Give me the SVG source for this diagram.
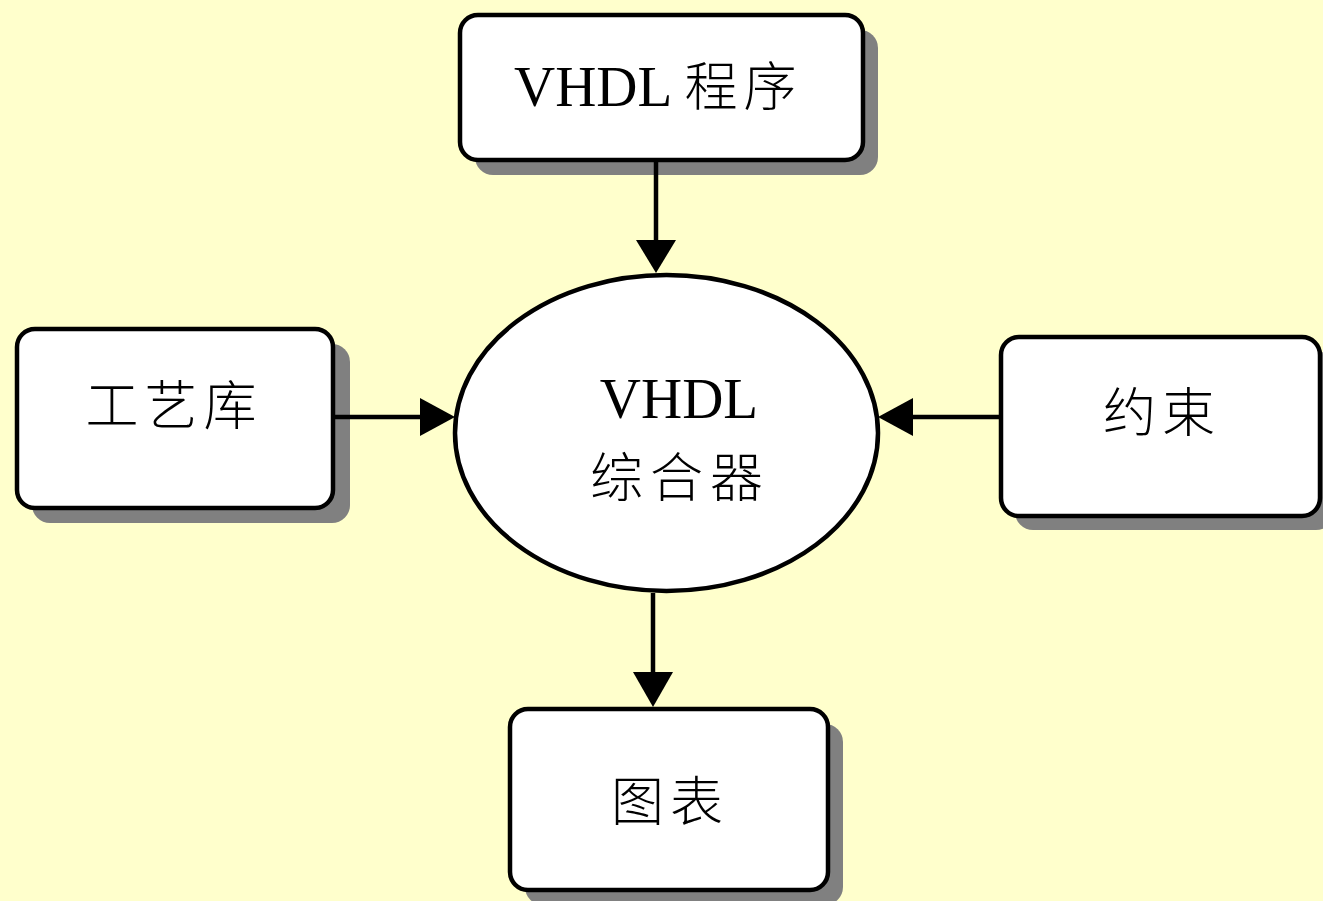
<svg xmlns="http://www.w3.org/2000/svg" width="1323" height="901" viewBox="0 0 1323 901">
<defs>
<style>
.bg{fill:#FFFFCC}
.sh{fill:#808080}
.box{fill:#FFFFFF;stroke:#000;stroke-width:4.5}
.lat{font-family:"Liberation Serif","Times New Roman",serif;font-size:57px;fill:#000}
.cjk{font-family:"Noto Sans CJK SC","Noto Sans CJK JP",sans-serif;font-size:53px;fill:#000;font-weight:300}
.ln{stroke:#000;stroke-width:4.5;fill:none}
.ah{fill:#000}
</style>
</defs>
<rect class="bg" x="0" y="0" width="1323" height="901"/>

<g id="node-vhdl-program">
<rect class="sh" x="475" y="30" width="403" height="145" rx="18"/>
<rect class="box" x="460" y="15" width="403" height="145" rx="18"/>
<text x="514" y="106" class="lat">VHDL <tspan class="cjk" font-size="57px" letter-spacing="6">程序</tspan></text>
</g>

<g id="node-library">
<rect class="sh" x="32" y="344" width="318" height="179" rx="18"/>
<rect class="box" x="17" y="329" width="316" height="179" rx="18"/>
<text x="174" y="425" class="cjk" text-anchor="middle" letter-spacing="6">工艺库</text>
</g>

<g id="node-synth">
<ellipse class="box" cx="666.5" cy="433" rx="211.5" ry="158"/>
<text x="679" y="418" class="lat" text-anchor="middle">VHDL</text>
<text x="680" y="497" class="cjk" text-anchor="middle" letter-spacing="7">综合器</text>
</g>

<g id="node-constraint">
<rect class="sh" x="1015" y="351" width="319" height="179" rx="18"/>
<rect class="box" x="1001" y="337" width="319" height="179" rx="18"/>
<text x="1162" y="432" class="cjk" text-anchor="middle" letter-spacing="6">约束</text>
</g>

<g id="node-chart">
<rect class="sh" x="525" y="724" width="318" height="181" rx="18"/>
<rect class="box" x="510" y="709" width="318" height="181" rx="18"/>
<text x="670" y="821" class="cjk" text-anchor="middle" letter-spacing="6">图表</text>
</g>

<g id="connectors">
<line class="ln" x1="656" y1="160" x2="656" y2="242"/>
<polygon class="ah" points="636,240 676,240 656,273"/>
<line class="ln" x1="333" y1="417" x2="422" y2="417"/>
<polygon class="ah" points="420,398 420,436 455,417"/>
<line class="ln" x1="1001" y1="417" x2="911" y2="417"/>
<polygon class="ah" points="913,398 913,436 878,417"/>
<line class="ln" x1="653" y1="593" x2="653" y2="674"/>
<polygon class="ah" points="633,672 673,672 653,707"/>
</g>
</svg>
